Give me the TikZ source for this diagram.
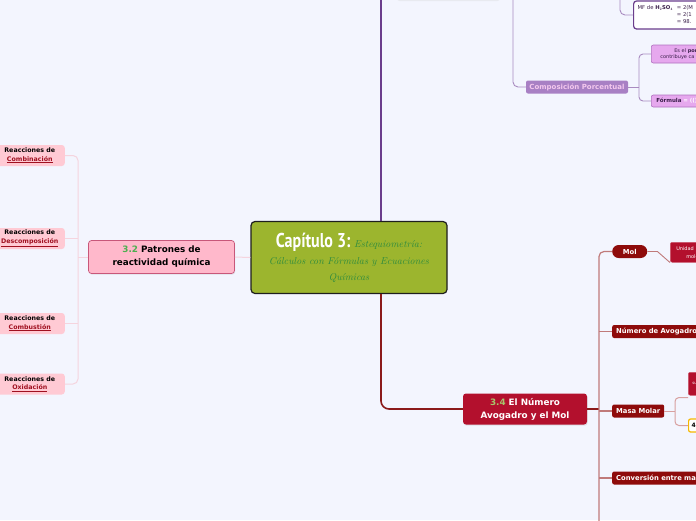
\documentclass[tikz,border=0pt]{standalone}
\usepackage{fontspec}
\usepackage{graphicx}
\newfontfamily\dv{DejaVu Sans}
\newfontfamily\pts{PT Sans}
\usetikzlibrary{shadows}
\definecolor{bg}{HTML}{F3F5FE}
\definecolor{pdark}{HTML}{6A3D8C}
\definecolor{plight}{HTML}{A98BC0}
\definecolor{compfill}{HTML}{A880C4}
\definecolor{comptext}{HTML}{F4C8EE}
\definecolor{violet}{HTML}{E6A8EE}
\definecolor{violetb}{HTML}{B070C0}
\definecolor{vtext}{HTML}{3A1F4A}
\definecolor{cgreen}{HTML}{9CB52E}
\definecolor{cborder}{HTML}{1E1E1E}
\definecolor{sgreen}{HTML}{2E8B3E}
\definecolor{crimson}{HTML}{B3102D}
\definecolor{rdark}{HTML}{8E0B0B}
\definecolor{rline}{HTML}{8B1A1A}
\definecolor{rtrunk}{HTML}{C07A7A}
\definecolor{rlight}{HTML}{D8A0A0}
\definecolor{pinkbig}{HTML}{FFB8CB}
\definecolor{pinkbord}{HTML}{C8577A}
\definecolor{pinksm}{HTML}{FFCAD4}
\definecolor{pinkline}{HTML}{F5D4DE}
\definecolor{g32}{HTML}{4CAF50}
\definecolor{g34}{HTML}{A8C66C}
\definecolor{ulred}{HTML}{A01020}
\definecolor{topbox}{HTML}{E8EAF0}
\definecolor{yel}{HTML}{F5B800}
\tikzset{
  cnode/.style={draw=cborder, line width=1.2pt, fill=cgreen, rounded corners=4pt,
    minimum width=196pt, minimum height=72pt, align=center, inner sep=0pt,
    font=\fontsize{10}{16}\selectfont\itshape, text=sgreen},
  compnode/.style={fill=compfill, rounded corners=2pt, minimum width=102pt, minimum height=13pt,
    inner sep=0pt, font=\dv\bfseries\fontsize{7}{8}\selectfont, text=comptext},
  vnode/.style={fill=violet, draw=violetb, line width=0.6pt, rounded corners=2pt, anchor=west,
    inner sep=0pt, font=\dv\fontsize{5}{6}\selectfont, text=vtext, align=left},
  mfbox/.style={draw=pdark, line width=1.2pt, fill=white, rounded corners=3pt, anchor=west,
    minimum height=28pt, inner xsep=4pt, inner ysep=0pt, text width=72pt, align=left,
    font=\dv\fontsize{5.3}{7}\selectfont, text=vtext},
  bignode/.style={rounded corners=3pt, align=center, inner sep=0pt,
    font=\dv\bfseries\fontsize{8.8}{13}\selectfont,
    drop shadow={opacity=0.18, shadow xshift=0.6pt, shadow yshift=-1.2pt}},
  lnode/.style={fill=pinksm, rounded corners=3pt, align=center, inner sep=0pt, anchor=east,
    minimum width=70pt, minimum height=21pt, font=\dv\bfseries\fontsize{6.3}{8.5}\selectfont},
  rnode/.style={fill=rdark, rounded corners=2pt, anchor=west, inner xsep=4pt, inner ysep=0pt,
    minimum height=13pt, text=white, font=\dv\bfseries\fontsize{6.8}{8}\selectfont},
  crimnode/.style={fill=crimson, draw=crimson!70!white, line width=0.5pt, rounded corners=2pt,
    inner sep=0pt, text=white, align=left, font=\dv\fontsize{5}{8}\selectfont},
  purpleln/.style={draw=plight, line width=0.9pt},
  redln/.style={draw=rtrunk, line width=1.2pt},
  pinkln/.style={draw=pinkline, line width=1pt},
}
\begin{document}
\begin{tikzpicture}[x=1pt,y=-1pt]
\useasboundingbox (0,0) rectangle (696,520);
\clip (0,0) rectangle (696,520);
\fill[bg] (0,0) rectangle (696,520);
% faint box at the very top
\fill[topbox, rounded corners=3pt] (397,-12) rectangle (500,1.2);

% center node
\node[cnode] (c) at (349,257.5) {\scalebox{0.8}[1]{\upshape\pts\bfseries\fontsize{20}{20}\selectfont\color{white}Capítulo 3:}\ Estequiometría:\\[1pt]
Cálculos con Fórmulas y Ecuaciones\\
Químicas};

% ---------- purple branch (top) ----------
\coordinate (ptop) at (381,-5);
\draw[pdark, line width=2pt] (c.north -| ptop) -- (ptop);

\node[compnode] (comp) at (577,87) {Composición Porcentual};
\coordinate (pt2) at (513,-5);
\draw[purpleln, rounded corners=5pt] (pt2) |- (comp.west);

\node[mfbox] (mf) at (633,15) {\begin{tabular}{@{}l@{\hspace{4pt}}l@{}}MF de \textbf{H$_{\mathbf 2}$SO$_{\mathbf 4}$} & = 2(M\\ & = 2(1\\ & = 98.\end{tabular}};
\coordinate (pt3) at (620,-5);
\draw[purpleln, rounded corners=5pt] (pt3) |- (mf.west);

\node[vnode, minimum height=18pt, text width=60pt] (es) at (651,54) {\hspace*{23pt}Es el \textbf{porce}\\\hspace*{9pt}contribuye ca};
\node[vnode, minimum height=12pt, text width=60pt, font=\dv\fontsize{5.5}{6}\selectfont] (fo) at (651,101) {\hspace*{5pt}\textbf{Fórmula} {\color{white}\textbf{= (()}}};
\coordinate (cb) at (639,87);
\draw[purpleln] (comp.east) -- (cb);
\draw[purpleln, rounded corners=4pt] (cb) |- (es.west);
\draw[purpleln, rounded corners=4pt] (cb) |- (fo.west);

% ---------- red branch (bottom right) ----------
\node[bignode, fill=crimson, text=white, minimum width=124pt, minimum height=31pt] (n34) at (525,409) {{\color{g34}3.4} El Número\\Avogadro y el Mol};
\coordinate (cpx) at (381,0);
\draw[rline, line width=1.6pt, rounded corners=8pt] (c.south -| cpx) |- (n34.west);

\coordinate (tb) at (599,525);
\draw[rline, line width=2pt] (n34.east) -- (n34.east -| tb);

\node[rnode, rounded corners=6.5pt, minimum width=35pt, inner xsep=0pt] (mol) at (612,251.5) {Mol};
\node[rnode] (nav) at (612,331.5) {Número de Avogadro};
\node[rnode, minimum width=52pt, inner xsep=0pt] (masa) at (612,411) {Masa Molar};
\node[rnode, text width=110pt, align=left] (conv) at (612,478) {Conversión entre ma};

\draw[redln, rounded corners=5pt] (tb) |- (mol.west);
\draw[redln] (nav.west -| tb) -- (nav.west);
\draw[redln] (masa.west -| tb) -- (masa.west);
\draw[redln] (conv.west -| tb) -- (conv.west);

\node[crimnode, anchor=north west, minimum width=34pt, minimum height=20pt, text width=30pt] (unid) at (670,242) {\hspace*{4pt}Unidad\\\hspace*{14pt}molé};
\draw[redln, line width=0.9pt] (mol.east) -- ++(10,0) -- (unid.south west);

\node[crimnode, anchor=north west, minimum width=20pt, minimum height=23pt, text width=16pt, font=\dv\fontsize{4}{5}\selectfont] (su) at (688,372) {\hspace*{2pt}su};
\node[draw=yel, line width=1.2pt, fill=white, rounded corners=2pt, anchor=west, minimum height=13pt, minimum width=20pt, inner sep=0pt, text width=18pt, align=left, font=\dv\bfseries\fontsize{6}{7}\selectfont] (q4) at (688,425.5) {\hspace*{2pt}4};
\coordinate (mb) at (675,411);
\draw[rlight, line width=1pt] (masa.east) -- (mb);
\draw[rlight, line width=1pt, rounded corners=4pt] (q4.west) -| (mb) |- ([yshift=-2pt]su.south west);

% ---------- pink branch (left) ----------
\node[bignode, fill=pinkbig, draw=pinkbord, line width=0.7pt, text=black, minimum width=146pt, minimum height=33pt] (n32) at (161.5,257) {{\color{g32}3.2} Patrones de\\reactividad química};
\draw[pinkln] (c.west) -- (n32.east);

\node[lnode] (r1) at (65,155.5) {Reacciones de\\{\color{ulred}\underline{Combinación}}};
\node[lnode] (r2) at (65,238.5) {Reacciones de\\{\color{ulred}\underline{Descomposición}}};
\node[lnode] (r3) at (65,323.5) {Reacciones de\\{\color{ulred}\underline{Combustión}}};
\node[lnode] (r4) at (65,384) {Reacciones de\\{\color{ulred}\underline{Oxidación}}};
\coordinate (lb) at (78,0);
\draw[pinkln, rounded corners=5pt] (r1.east) -| (lb |- r4.east) -- (r4.east);
\draw[pinkln] (r2.east) -- (r2.east -| lb);
\draw[pinkln] (r3.east) -- (r3.east -| lb);
\draw[pinkln] (n32.west) -- (n32.west -| lb);
\end{tikzpicture}
\end{document}
